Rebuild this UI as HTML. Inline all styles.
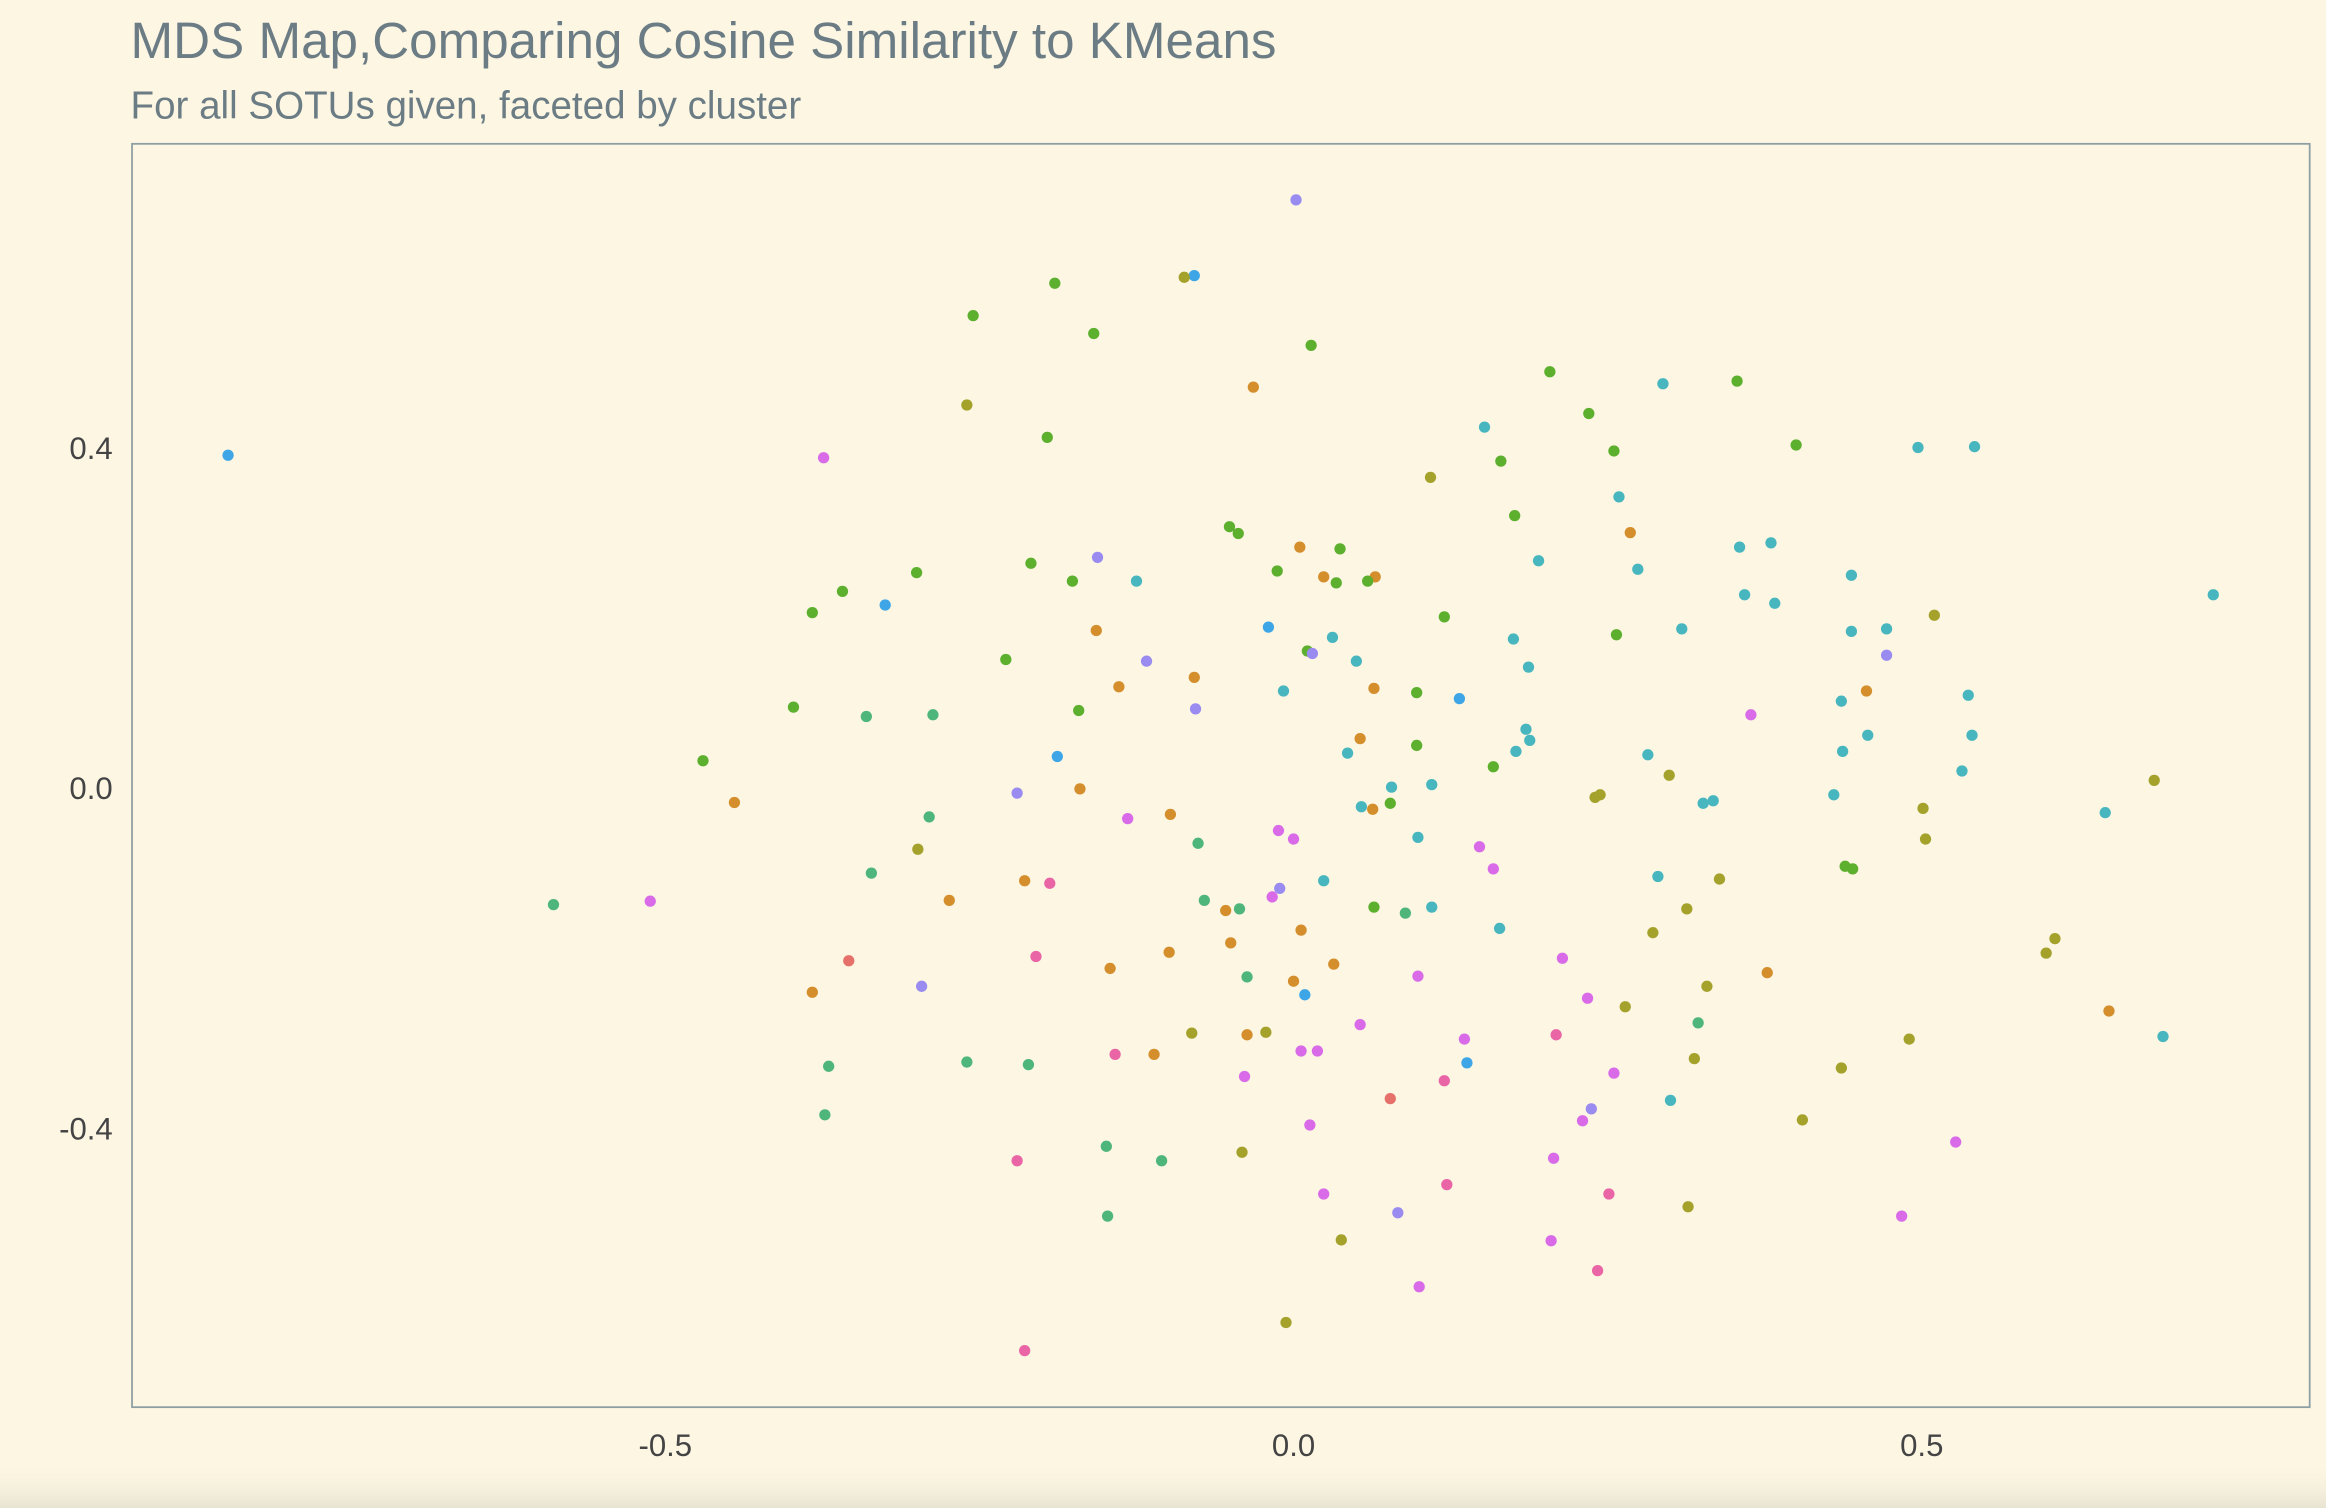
<!DOCTYPE html>
<html><head><meta charset="utf-8">
<style>
html,body{margin:0;padding:0;background:#FCF6E3;}
svg{display:block;}
text{font-family:"Liberation Sans",Arial,sans-serif;}
</style></head>
<body>
<svg id="chart" width="2326" height="1508" viewBox="0 0 1568 1017" preserveAspectRatio="none" xmlns="http://www.w3.org/2000/svg">
<defs>
<linearGradient id="shade" x1="0" y1="0" x2="0" y2="1">
<stop offset="0" stop-color="#FCF6E3" stop-opacity="0"/>
<stop offset="1" stop-color="#E9E4D2" stop-opacity="1"/>
</linearGradient>
</defs>
<rect x="0" y="0" width="1568" height="1017" fill="#FCF6E3"/>
<rect x="0" y="985" width="1568" height="32" fill="url(#shade)"/>
<text x="88" y="39" font-size="34.5" fill="#6B7C84">MDS Map,Comparing Cosine Similarity to KMeans</text>
<text x="88" y="80" font-size="26" fill="#6B7C84">For all SOTUs given, faceted by cluster</text>
<rect x="89" y="97" width="1468" height="852" fill="none" stroke="#8E9FA4" stroke-width="1.2"/>
<g id="axes"></g>
<g id="points"></g>
</svg>
<script>
const xs = [-0.848,0.002,-0.079,-0.087,-0.190,-0.255,-0.159,0.014,-0.032,-0.260,0.204,0.353,0.294,-0.196,0.235,0.152,0.400,0.497,0.542,-0.374,0.255,0.165,0.109,0.259,0.176,-0.051,-0.044,0.268,0.005,0.037,0.355,0.380,-0.156,-0.209,-0.300,0.195,0.274,-0.013,0.024,0.065,0.034,0.059,-0.176,-0.125,-0.359,0.444,0.359,0.732,0.383,-0.383,-0.325,0.120,0.510,-0.020,0.309,-0.157,0.444,0.472,0.031,0.257,0.175,0.011,0.015,-0.117,-0.229,0.050,0.472,0.187,-0.079,-0.139,0.064,-0.008,0.098,0.456,0.537,0.132,0.436,-0.398,-0.078,-0.171,-0.340,-0.287,0.364,0.185,0.188,0.457,0.053,0.540,0.685,0.437,0.043,0.098,0.177,0.282,-0.470,0.159,0.299,-0.188,0.532,0.078,0.110,-0.170,-0.220,0.430,0.244,0.240,-0.445,0.334,0.326,0.054,0.063,0.077,0.501,0.646,-0.290,-0.132,-0.098,-0.012,0.000,0.099,-0.076,0.148,-0.299,0.503,0.439,0.445,0.159,-0.336,0.290,0.024,0.339,-0.214,-0.194,-0.011,-0.017,-0.274,-0.512,-0.589,-0.071,-0.043,0.064,0.089,0.110,-0.054,0.313,0.164,0.006,0.286,-0.050,0.606,0.599,-0.205,-0.354,0.214,-0.099,0.032,-0.146,0.377,-0.037,0.000,0.099,-0.296,-0.383,0.009,0.329,0.234,0.264,0.649,0.053,-0.081,-0.022,-0.037,0.209,0.322,0.490,0.692,0.136,-0.142,-0.111,0.006,0.019,-0.260,-0.211,-0.370,0.138,0.319,0.436,0.120,0.255,-0.039,0.077,0.300,0.237,-0.373,0.230,0.405,0.013,-0.149,-0.041,0.527,-0.220,-0.105,0.207,0.122,0.024,0.251,0.314,0.083,-0.148,0.484,0.038,0.205,0.242,0.100,-0.006,-0.214];
const ys = [0.392,0.692,0.603,0.601,0.594,0.556,0.535,0.521,0.472,0.451,0.490,0.479,0.476,0.413,0.441,0.425,0.404,0.401,0.402,0.389,0.397,0.385,0.366,0.343,0.321,0.308,0.300,0.301,0.284,0.282,0.284,0.289,0.272,0.265,0.254,0.268,0.258,0.256,0.249,0.249,0.242,0.244,0.244,0.244,0.232,0.251,0.228,0.228,0.218,0.207,0.216,0.202,0.204,0.190,0.188,0.186,0.185,0.188,0.178,0.181,0.176,0.162,0.159,0.150,0.152,0.150,0.157,0.143,0.131,0.120,0.118,0.115,0.113,0.115,0.110,0.106,0.103,0.096,0.094,0.092,0.085,0.087,0.087,0.070,0.057,0.063,0.059,0.063,0.010,0.044,0.042,0.051,0.044,0.040,0.033,0.026,0.016,0.038,0.021,0.002,0.005,0.000,-0.005,-0.007,-0.007,-0.010,-0.016,-0.014,-0.017,-0.021,-0.024,-0.017,-0.023,-0.028,-0.033,-0.035,-0.030,-0.049,-0.059,-0.057,-0.064,-0.068,-0.071,-0.059,-0.091,-0.094,-0.094,-0.099,-0.103,-0.108,-0.106,-0.108,-0.111,-0.117,-0.127,-0.131,-0.132,-0.136,-0.131,-0.141,-0.139,-0.146,-0.139,-0.143,-0.141,-0.164,-0.166,-0.169,-0.181,-0.176,-0.193,-0.197,-0.202,-0.199,-0.192,-0.206,-0.211,-0.216,-0.221,-0.226,-0.220,-0.232,-0.239,-0.242,-0.232,-0.246,-0.256,-0.261,-0.277,-0.287,-0.286,-0.289,-0.289,-0.275,-0.294,-0.291,-0.294,-0.312,-0.312,-0.308,-0.308,-0.321,-0.324,-0.326,-0.322,-0.317,-0.328,-0.343,-0.334,-0.338,-0.364,-0.366,-0.376,-0.383,-0.390,-0.389,-0.395,-0.420,-0.427,-0.415,-0.437,-0.437,-0.434,-0.465,-0.476,-0.476,-0.491,-0.498,-0.502,-0.502,-0.530,-0.531,-0.566,-0.585,-0.627,-0.660];
const clusters = [
"B","P","B","O","G","G","G","G","R","O",
"G","G","T","G","G","T","G","T","T","M",
"G","G","O","T","G","G","G","R","R","G",
"T","T","P","G","G","T","T","G","R","R",
"G","G","G","T","G","T","T","T","T","G",
"B","G","O","B","T","R","T","T","T","G",
"T","G","P","P","G","T","P","T","R","R",
"R","T","G","R","T","B","T","G","P","G",
"S","S","M","T","T","T","R","T","O","T",
"T","G","T","T","G","G","O","B","T","T",
"T","R","P","T","O","O","R","T","T","T",
"R","G","O","T","S","M","R","M","M","T",
"S","M","O","O","G","G","M","S","T","T",
"O","R","K","P","M","R","M","S","S","S",
"G","S","T","R","O","T","R","O","R","O",
"O","K","E","M","R","R","R","R","S","R",
"M","P","R","B","O","M","O","R","M","O",
"O","R","K","S","O","T","M","K","R","M",
"M","S","S","S","B","O","O","K","M","M",
"E","T","P","S","M","O","M","S","O","M",
"K","S","M","K","M","K","O","P","S","M",
"O","M","K","M","O","K"];
const xTicks = [-0.5,0.0,0.5];
const xTickLabels = ["-0.5","0.0","0.5"];
const yTicks = [0.4,0.0,-0.4];
const yTickLabels = ["0.4","0.0","-0.4"];
const palette = {G:"#5DAF2E",O:"#A5A22C",R:"#D58E2C",T:"#47B6BE",B:"#3EA6E6",P:"#9A8BF0",M:"#D96BE9",K:"#E965A6",S:"#4EB57B",E:"#E6716A"};

const NS = "http://www.w3.org/2000/svg";
function sx(v){ return 872 + v * 847; }
function sy(v){ return 532 - v * 574; }

const axes = document.getElementById('axes');
xTicks.forEach((t,i)=>{
  const tx = document.createElementNS(NS,'text');
  tx.setAttribute('x', sx(t)); tx.setAttribute('y', 982);
  tx.setAttribute('text-anchor','middle'); tx.setAttribute('font-size','21'); tx.setAttribute('fill','#444');
  tx.textContent = xTickLabels[i];
  
  
  axes.appendChild(tx);
});
yTicks.forEach((t,i)=>{
  const tx = document.createElementNS(NS,'text');
  tx.setAttribute('x', 76); tx.setAttribute('y', sy(t)+7);
  tx.setAttribute('text-anchor','end'); tx.setAttribute('font-size','21'); tx.setAttribute('fill','#444');
  tx.textContent = yTickLabels[i];
  
  
  axes.appendChild(tx);
});

const pts = document.getElementById('points');
xs.forEach((x,i)=>{
  const c = document.createElementNS(NS,'circle');
  c.setAttribute('cx', sx(x)); c.setAttribute('cy', sy(ys[i]));
  c.setAttribute('r', 3.8);
  c.setAttribute('fill', palette[clusters[i]] || "#888");
  
  
  pts.appendChild(c);
});
</script>
</body></html>
